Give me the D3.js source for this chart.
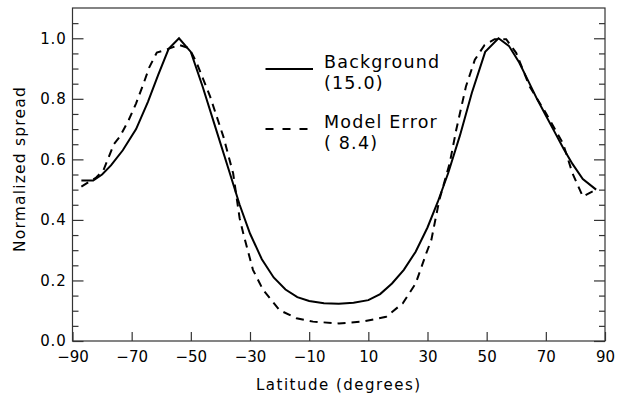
<!DOCTYPE html>
<html>
<head>
<meta charset="utf-8">
<script src="https://cdn.jsdelivr.net/npm/d3@7"></script>
<style>
	body { margin: 0; background: #fff; }
	text { font-family: "DejaVu Sans", sans-serif; fill: #000; }
</style>
</head>
<body>
<svg id="chart" width="619" height="396"></svg>
<script>
// latitude points and normalized spread
const bgLat = [-87, -83, -80, -77, -73, -68.5, -64.5, -61, -57.5, -54, -50, -46, -41.5, -37, -33.5, -30, -26, -22, -18, -14, -10, -5, 0, 5, 10, 14, 18, 22, 26, 30, 33.5, 37, 41, 45, 49.5, 54, 57.5, 61, 64, 67, 70, 73, 76, 79, 82.5, 87];
const bgVal = [0.53, 0.53, 0.55, 0.58, 0.63, 0.70, 0.79, 0.88, 0.965, 1.0, 0.955, 0.84, 0.70, 0.56, 0.45, 0.355, 0.27, 0.21, 0.17, 0.145, 0.132, 0.125, 0.123, 0.126, 0.135, 0.155, 0.19, 0.235, 0.295, 0.375, 0.46, 0.555, 0.68, 0.82, 0.955, 1.0, 0.975, 0.92, 0.86, 0.80, 0.745, 0.69, 0.635, 0.585, 0.535, 0.50];

const meLat = [-87, -82, -79.5, -76, -74, -71, -68.5, -66, -64, -61.5, -59, -54, -50.5, -48, -43.5, -39, -35.7, -33.5, -32, -29, -25.6, -20, -14.3, -8.7, 0, 8, 16, 21.7, 26, 29.6, 31.3, 34, 37.5, 39.7, 43, 46, 49.3, 52.7, 56.6, 60, 64.5, 70, 75.8, 79, 82.5, 87];
const meVal = [0.51, 0.54, 0.565, 0.65, 0.675, 0.73, 0.785, 0.85, 0.905, 0.953, 0.96, 0.978, 0.967, 0.918, 0.808, 0.675, 0.554, 0.405, 0.345, 0.235, 0.169, 0.102, 0.075, 0.064, 0.058, 0.064, 0.08, 0.125, 0.19, 0.29, 0.334, 0.466, 0.587, 0.697, 0.841, 0.929, 0.978, 0.997, 0.997, 0.951, 0.841, 0.753, 0.653, 0.554, 0.477, 0.50];

const xTicks = [-90, -70, -50, -30, -10, 10, 30, 50, 70, 90];
const yTicks = [0, 0.2, 0.4, 0.6, 0.8, 1.0];
const yMinor = [0.05, 0.1, 0.15, 0.25, 0.3, 0.35, 0.45, 0.5, 0.55, 0.65, 0.7, 0.75, 0.85, 0.9, 0.95, 1.05];

const legendNames = ["Background", "Model Error"];
const legendValues = ["(15.0)", "( 8.4)"];

const W = 619, H = 396;
const margin = {top: 8, right: 14, bottom: 55, left: 72.5};
const innerW = W - margin.left - margin.right;
const innerH = H - margin.top - margin.bottom;

const svg = d3.select("#chart");
const g = svg.append("g").attr("transform", `translate(${margin.left},${margin.top})`);

const x = d3.scaleLinear().domain([-90, 90]).range([0, innerW]);
const y = d3.scaleLinear().domain([0, 1.1]).range([innerH, 0]);

// frame
g.append("rect")
	.attr("width", innerW)
	.attr("height", innerH)
	.attr("fill", "none")
	.attr("stroke", "#333")
	.attr("stroke-width", 1.2);

function styleAxis(sel) {
	sel.select(".domain").remove();
	sel.selectAll(".tick line").attr("stroke", "#333").attr("stroke-width", 1.2);
}

// bottom axis, ticks pointing in
const xAxis = g.append("g")
	.attr("transform", `translate(0,${innerH})`)
	.call(d3.axisBottom(x).tickValues(xTicks).tickSize(-9).tickSizeOuter(0).tickPadding(10))
	.call(styleAxis);
xAxis.selectAll("text").attr("font-size", 15).attr("font-family", null);

// left axis major + minor
const yAxis = g.append("g")
	.call(d3.axisLeft(y).tickValues(yTicks).tickFormat(d3.format(".1f")).tickSize(-11).tickSizeOuter(0).tickPadding(6))
	.call(styleAxis);
yAxis.selectAll("text").attr("font-size", 15).attr("font-family", null).attr("letter-spacing", 0.8);

g.append("g")
	.call(d3.axisLeft(y).tickValues(yMinor).tickFormat("").tickSize(-6).tickSizeOuter(0))
	.call(styleAxis);

// right axis, no labels
g.append("g")
	.attr("transform", `translate(${innerW},0)`)
	.call(d3.axisRight(y).tickValues(yTicks).tickFormat("").tickSize(-11).tickSizeOuter(0))
	.call(styleAxis);
g.append("g")
	.attr("transform", `translate(${innerW},0)`)
	.call(d3.axisRight(y).tickValues(yMinor).tickFormat("").tickSize(-6).tickSizeOuter(0))
	.call(styleAxis);

// axis titles
svg.append("text")
	.attr("x", margin.left + innerW / 2)
	.attr("y", 390)
	.attr("text-anchor", "middle")
	.attr("font-size", 15)
	.attr("letter-spacing", 1.5)
	.text("Latitude (degrees)");

svg.append("text")
	.attr("transform", "translate(25,169) rotate(-90)")
	.attr("text-anchor", "middle")
	.attr("font-size", 15.5)
	.attr("letter-spacing", 1.2)
	.text("Normalized spread");

// curves
const line = d3.line()
	.x(d => x(d[0]))
	.y(d => y(d[1]));

g.append("path")
	.datum(d3.zip(bgLat, bgVal))
	.attr("d", line)
	.attr("fill", "none")
	.attr("stroke", "#000")
	.attr("stroke-width", 2);

g.append("path")
	.datum(d3.zip(meLat, meVal))
	.attr("d", line)
	.attr("fill", "none")
	.attr("stroke", "#000")
	.attr("stroke-width", 2)
	.attr("stroke-dasharray", "8,6");

// legend: name and value stacked, tight like the original
const legend = svg.append("g");
const legendY = [69, 129];
const dashes = [null, "8,9"];
legendNames.forEach((name, i) => {
	legend.append("line")
		.attr("x1", 265.5).attr("x2", 313)
		.attr("y1", legendY[i]).attr("y2", legendY[i])
		.attr("stroke", "#000")
		.attr("stroke-width", 2)
		.attr("stroke-dasharray", dashes[i]);
	legend.append("text")
		.attr("x", 324)
		.attr("y", legendY[i] - 1)
		.attr("font-size", 17.5)
		.attr("letter-spacing", 1.2)
		.text(name);
	legend.append("text")
		.attr("x", 324)
		.attr("y", legendY[i] + 19.5)
		.attr("font-size", 17.5)
		.attr("letter-spacing", 1.2)
		.style("white-space", "pre")
		.text(legendValues[i]);
});
</script>
</body>
</html>
